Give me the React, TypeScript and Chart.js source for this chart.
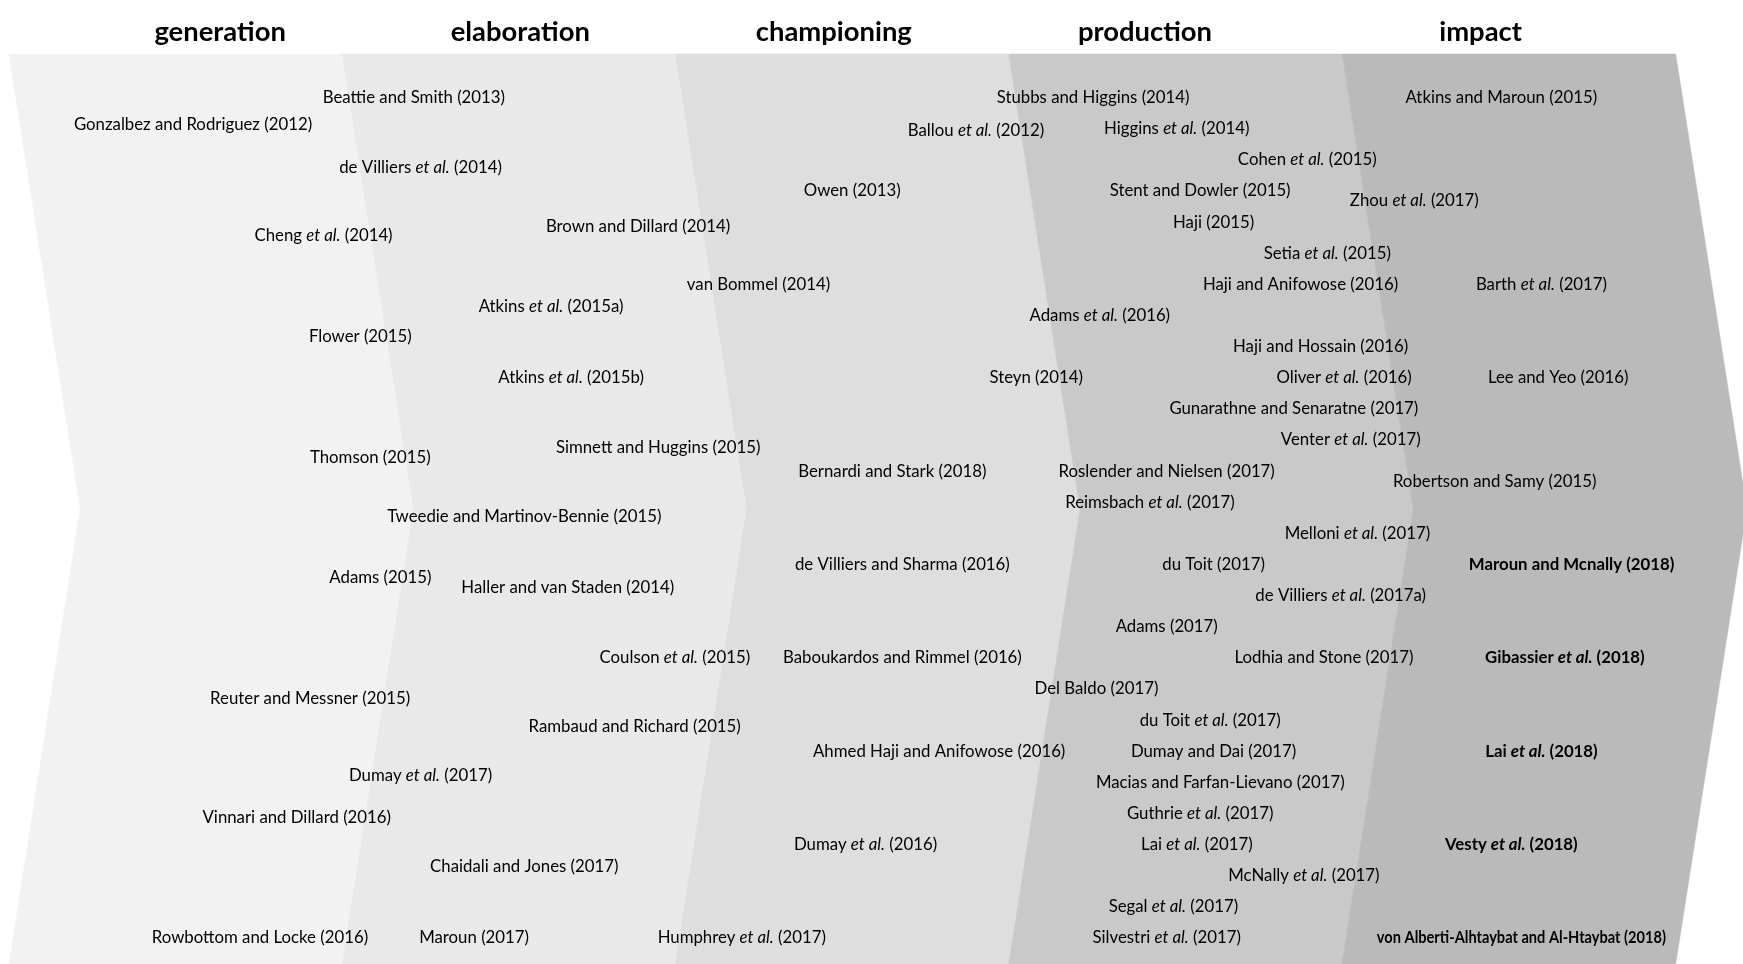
import { useEffect, useRef } from "react";
import { Chart, registerables } from "chart.js";

Chart.register(...registerables);

// Stage titles (x in stage units)
const stageNames = ["generation", "elaboration", "championing", "production", "impact"];
const stageTitleX = [0.631, 1.528, 2.465, 3.395, 4.398];
const titleRow = -2.12;
const stageColors = ["#f2f2f2", "#e9e9e9", "#dedede", "#c9c9c9", "#bababa"];
// Top-edge boundaries of each chevron (stage units)
const stageEdges = [0, 0.996, 1.992, 2.988, 3.984, 4.981];

// Chevron band (rows) and tip depth (stage units)
const bandTopRow = -1.37;
const bandMidRow = 13.25;
const bandBottomRow = 27.87;
const tipDepth = 0.213;

// References: [label, stage position, row]
const generationRefs: [string, number, number][] = [
  ["Gonzalbez and Rodriguez (2012)", 0.55, 0.86],
  ["Cheng et al. (2014)", 0.94, 4.43],
  ["Flower (2015)", 1.05, 7.68],
  ["Thomson (2015)", 1.08, 11.57],
  ["Adams (2015)", 1.11, 15.43],
  ["Reuter and Messner (2015)", 0.9, 19.29],
  ["Dumay et al. (2017)", 1.23, 21.79],
  ["Vinnari and Dillard (2016)", 0.86, 23.14],
  ["Rowbottom and Locke (2016)", 0.75, 27],
];

const elaborationRefs: [string, number, number][] = [
  ["Beattie and Smith (2013)", 1.21, 0],
  ["de Villiers et al. (2014)", 1.23, 2.25],
  ["Brown and Dillard (2014)", 1.88, 4.14],
  ["Atkins et al. (2015a)", 1.62, 6.71],
  ["Atkins et al. (2015b)", 1.68, 9],
  ["Simnett and Huggins (2015)", 1.94, 11.25],
  ["Tweedie and Martinov-Bennie (2015)", 1.54, 13.46],
  ["Haller and van Staden (2014)", 1.67, 15.75],
  ["Coulson et al. (2015)", 1.99, 18],
  ["Rambaud and Richard (2015)", 1.87, 20.21],
  ["Chaidali and Jones (2017)", 1.54, 24.71],
  ["Maroun (2017)", 1.39, 27],
  ["Humphrey et al. (2017)", 2.19, 27],
];

const championingRefs: [string, number, number][] = [
  ["Ballou et al. (2012)", 2.89, 1.07],
  ["Owen (2013)", 2.52, 3],
  ["van Bommel (2014)", 2.24, 6],
  ["Steyn (2014)", 3.07, 9],
  ["Bernardi and Stark (2018)", 2.64, 12],
  ["de Villiers and Sharma (2016)", 2.67, 15],
  ["Baboukardos and Rimmel (2016)", 2.67, 18],
  ["Ahmed Haji and Anifowose (2016)", 2.78, 21],
  ["Dumay et al. (2016)", 2.56, 24],
];

const productionRefs: [string, number, number][] = [
  ["Stubbs and Higgins (2014)", 3.24, 0],
  ["Higgins et al. (2014)", 3.49, 1],
  ["Cohen et al. (2015)", 3.88, 2],
  ["Stent and Dowler (2015)", 3.56, 3],
  ["Haji (2015)", 3.6, 4],
  ["Setia et al. (2015)", 3.94, 5],
  ["Haji and Anifowose (2016)", 3.86, 6],
  ["Adams et al. (2016)", 3.26, 7],
  ["Haji and Hossain (2016)", 3.92, 8],
  ["Oliver et al. (2016)", 3.99, 9],
  ["Gunarathne and Senaratne (2017)", 3.84, 10],
  ["Venter et al. (2017)", 4.01, 11],
  ["Roslender and Nielsen (2017)", 3.46, 12],
  ["Reimsbach et al. (2017)", 3.41, 13],
  ["Melloni et al. (2017)", 4.03, 14],
  ["du Toit (2017)", 3.6, 15],
  ["de Villiers et al. (2017a)", 3.98, 16],
  ["Adams (2017)", 3.46, 17],
  ["Lodhia and Stone (2017)", 3.93, 18],
  ["Del Baldo (2017)", 3.25, 19],
  ["du Toit et al. (2017)", 3.59, 20],
  ["Dumay and Dai (2017)", 3.6, 21],
  ["Macias and Farfan-Lievano (2017)", 3.62, 22],
  ["Guthrie et al. (2017)", 3.56, 23],
  ["Lai et al. (2017)", 3.55, 24],
  ["McNally et al. (2017)", 3.87, 25],
  ["Segal et al. (2017)", 3.48, 26],
  ["Silvestri et al. (2017)", 3.46, 27],
];

const impactRefs: [string, number, number][] = [
  ["Atkins and Maroun (2015)", 4.46, 0],
  ["Zhou et al. (2017)", 4.2, 3.29],
  ["Barth et al. (2017)", 4.58, 6],
  ["Lee and Yeo (2016)", 4.63, 9],
  ["Robertson and Samy (2015)", 4.44, 12.32],
  ["Maroun and Mcnally (2018)", 4.67, 15],
  ["Gibassier et al. (2018)", 4.65, 18],
  ["Lai et al. (2018)", 4.58, 21],
  ["Vesty et al. (2018)", 4.49, 24],
  ["von Alberti-Alhtaybat and Al-Htaybat (2018)", 4.52, 27],
];

// Most recent (2018) impact studies are highlighted
const highlightedRefs = [
  "Maroun and Mcnally (2018)",
  "Gibassier et al. (2018)",
  "Lai et al. (2018)",
  "Vesty et al. (2018)",
  "von Alberti-Alhtaybat and Al-Htaybat (2018)",
];
const condensedRefs = ["von Alberti-Alhtaybat and Al-Htaybat (2018)"];

const FAMILY = 'Lato, "Noto Sans", sans-serif';
const LABEL_SIZE = 16.8;
const TITLE_SIZE = 27.4;

function drawRich(
  ctx: CanvasRenderingContext2D,
  text: string,
  cx: number,
  cy: number,
  size: number,
  bold: boolean,
  condense: number
) {
  const parts = text.split(/(et al\.)/).filter((p) => p.length > 0);
  const w = bold ? "bold " : "";
  const fonts = parts.map((p) => (p === "et al." ? "italic " : "") + w + size + "px " + FAMILY);
  const widths = parts.map((p, i) => {
    ctx.font = fonts[i];
    return ctx.measureText(p).width;
  });
  const total = widths.reduce((a, b) => a + b, 0);
  ctx.save();
  ctx.translate(cx, cy + 1);
  ctx.scale(condense, 1);
  ctx.textAlign = "left";
  ctx.textBaseline = "middle";
  ctx.fillStyle = "#000000";
  let x = -total / 2;
  parts.forEach((p, i) => {
    ctx.font = fonts[i];
    ctx.fillText(p, x, 0);
    x += widths[i];
  });
  ctx.restore();
}

const chevronPlugin = {
  id: "chevrons",
  beforeDatasetsDraw(chart: any) {
    const { ctx, scales } = chart;
    const X = (v: number) => scales.x.getPixelForValue(v);
    const Y = (v: number) => scales.y.getPixelForValue(v);
    ctx.save();
    stageColors.forEach((color, i) => {
      const a = stageEdges[i];
      const b = stageEdges[i + 1];
      ctx.beginPath();
      ctx.moveTo(X(a), Y(bandTopRow));
      ctx.lineTo(X(b), Y(bandTopRow));
      ctx.lineTo(X(b + tipDepth), Y(bandMidRow));
      ctx.lineTo(X(b), Y(bandBottomRow));
      ctx.lineTo(X(a), Y(bandBottomRow));
      ctx.lineTo(X(a + tipDepth), Y(bandMidRow));
      ctx.closePath();
      ctx.fillStyle = color;
      ctx.fill();
      ctx.strokeStyle = color;
      ctx.lineWidth = 0.6;
      ctx.stroke();
    });
    ctx.restore();
  },
  afterDatasetsDraw(chart: any) {
    const { ctx } = chart;
    chart.data.datasets.forEach((ds: any, di: number) => {
      const meta = chart.getDatasetMeta(di);
      meta.data.forEach((pt: any, j: number) => {
        const label: string = ds.labels[j];
        if (ds.isTitle) {
          drawRich(ctx, label, pt.x, pt.y, TITLE_SIZE, true, 1);
        } else {
          const bold = highlightedRefs.includes(label);
          const condense = condensedRefs.includes(label) ? 0.87 : 1;
          drawRich(ctx, label, pt.x, pt.y, LABEL_SIZE, bold, condense);
        }
      });
    });
  },
};

function refDataset(refs: [string, number, number][]) {
  return {
    labels: refs.map((r) => r[0]),
    data: refs.map((r) => ({ x: r[1], y: r[2] })),
    pointRadius: 0,
    pointHoverRadius: 0,
    showLine: false,
  };
}

export default function App() {
  const canvasRef = useRef<HTMLCanvasElement | null>(null);

  useEffect(() => {
    document.body.style.margin = "0";
    document.body.style.overflow = "hidden";
    const canvas = canvasRef.current;
    if (!canvas) return;
    const chart = new Chart(canvas, {
      type: "scatter",
      data: {
        datasets: [
          {
            labels: stageNames,
            isTitle: true,
            data: stageTitleX.map((x) => ({ x, y: titleRow })),
            pointRadius: 0,
            pointHoverRadius: 0,
          } as any,
          refDataset(generationRefs) as any,
          refDataset(elaborationRefs) as any,
          refDataset(championingRefs) as any,
          refDataset(productionRefs) as any,
          refDataset(impactRefs) as any,
        ],
      },
      options: {
        responsive: false,
        animation: false,
        events: [],
        layout: { padding: 0 },
        plugins: { legend: { display: false }, tooltip: { enabled: false } },
        scales: {
          x: { type: "linear", display: false, min: -0.0269, max: 5.1823 },
          y: { type: "linear", display: false, min: -3.107, max: 27.865, reverse: true },
        },
      },
      plugins: [chevronPlugin],
    });
    return () => chart.destroy();
  }, []);

  return (
    <div style={{ width: 1743, height: 964, background: "#ffffff" }}>
      <canvas ref={canvasRef} width={1743} height={964} style={{ display: "block" }} />
    </div>
  );
}
